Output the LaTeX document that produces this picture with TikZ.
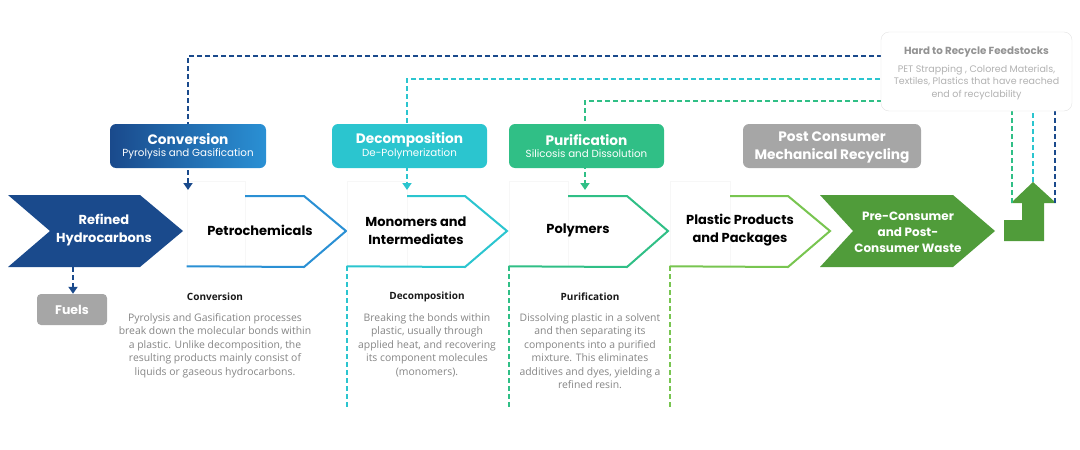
\documentclass[tikz,border=0pt]{standalone}
\usepackage{fontspec}
\setmainfont{Open Sans}
\newfontfamily\pop{Poppins}
\usetikzlibrary{arrows.meta,positioning}
\definecolor{navy}{HTML}{1A4A8C}
\definecolor{skyb}{HTML}{2A90D4}
\definecolor{tealc}{HTML}{2BC5CF}
\definecolor{mint}{HTML}{30BF86}
\definecolor{limeg}{HTML}{78C550}
\definecolor{leaf}{HTML}{509C3A}
\definecolor{greyb}{HTML}{A6A6A6}
\definecolor{bodyg}{HTML}{858585}

\begin{document}
\begin{tikzpicture}[x=1pt,y=-1pt,line join=miter,
	flowline/.style={line width=2.4pt,dash pattern=on 5pt off 3pt},
	tip/.style={-{Triangle[width=9pt,length=7pt]}},
	notch/.style={draw=gray!6,fill=white,line width=0.6pt},
	chevline/.style={line width=2pt},
	tagbox/.style={rounded corners=6pt,minimum height=44pt,text=white,align=center,inner sep=0pt,font=\pop\fontsize{10.3}{11}\selectfont},
	stage/.style={font=\pop\bfseries\fontsize{13}{18}\selectfont,align=center},
	head/.style={font=\bfseries\fontsize{10}{12}\selectfont,text=black!90},
	body/.style={font=\fontsize{10.4}{13.5}\selectfont,text=bodyg,align=center,anchor=north}]
		\useasboundingbox (0,0) rectangle (1080,450);
		% chevrons
		\fill [navy] (8,195) -- (140,195) -- (183,231) -- (140,267) -- (8,267) -- (50,231) -- cycle;
		\node [stage,text=white] (refined) at (104,230.5) {Refined\\Hydrocarbons};
		\node [notch,minimum width=58pt,minimum height=85pt,inner sep=0pt] (petro) at (216,223.5) {};
		\draw [chevline,skyb] (petro.south west) -- (304,267) -- (346,231) -- (304,196) -- (245,196);
		\node [stage] (petrotxt) at (260,230) {Petrochemicals};
		\node [notch,minimum width=60pt,minimum height=85pt,inner sep=0pt] (mono) at (377,223.5) {};
		\draw [chevline,tealc] (mono.south west) -- (465,267) -- (507,231) -- (465,196) -- (407,196);
		\node [stage] (monotxt) at (416,230.5) {Monomers and\\Intermediates};
		\node [notch,minimum width=59pt,minimum height=85pt,inner sep=0pt] (poly) at (538.5,223.5) {};
		\draw [chevline,mint] (poly.south west) -- (627,267) -- (668,231) -- (627,196) -- (568,196);
		\node [stage] (polytxt) at (578,230) {Polymers};
		\node [notch,minimum width=60pt,minimum height=85pt,inner sep=0pt] (plast) at (700,223.5) {};
		\draw [chevline,limeg] (plast.south west) -- (788,267) -- (830,231) -- (788,196) -- (730,196);
		\node [stage] (plasttxt) at (740,230) {Plastic Products\\and Packages};
		\fill [leaf] (820,195) -- (953,195) -- (995,231) -- (953,267) -- (820,267) -- (853,231) -- cycle;
		\node [stage,text=white,font=\pop\bfseries\fontsize{12}{16}\selectfont] (waste) at (908,232.5) {Pre-Consumer\\and Post-\\Consumer Waste};
		% up arrow back to the feedstocks
		\coordinate (upG) at (1012,203);
		\coordinate (upC) at (1033,182);
		\coordinate (upB) at (1055,203);
		\fill [leaf] (1004,220) -- (1022,220) -- (1022,203) -- (1011,203) -- (upC) -- (1056,203) -- (1044,203) -- (1044,241) -- (1004,241) -- cycle;
		% feedback loops from the hard to recycle box
		\draw [flowline,navy,tip] (upB) |- (188,56) -- (188,190);
		\draw [flowline,tealc,tip] (upC) |- (407,79) -- (407,190);
		\draw [flowline,mint,tip] (upG) |- (585,101) -- (585,190);
		\node [draw=gray!22,fill=white,rounded corners=8pt,minimum width=191pt,minimum height=79pt] (hard) at (976.5,71.5) {};
		\node [align=center,inner sep=0pt,font=\pop\fontsize{9.5}{12.5}\selectfont,text=gray!60] (hardtxt) at (976.5,73.5)
			{{\bfseries\fontsize{10.3}{12}\selectfont\color{gray!85}Hard to Recycle Feedstocks}\\[5pt]PET Strapping , Colored Materials,\\Textiles, Plastics that have reached\\end of recyclability};
		% process boxes
		\node [tagbox,minimum width=156pt,left color=navy,right color=skyb] (conv) at (188,146)
			{{\bfseries\fontsize{13.7}{14}\selectfont Conversion}\\[1pt]Pyrolysis and Gasification};
		\node [tagbox,minimum width=155pt,fill=tealc] (decomp) at (409.5,146)
			{{\bfseries\fontsize{13.7}{14}\selectfont Decomposition}\\[1pt]De-Polymerization};
		\node [tagbox,minimum width=155pt,fill=mint] (purif) at (586.5,146)
			{{\bfseries\fontsize{13.7}{14}\selectfont Purification}\\[1pt]Silicosis and Dissolution};
		\node [tagbox,minimum width=178pt,fill=greyb,text depth=0pt,font=\pop\bfseries\fontsize{13.7}{18}\selectfont] (mech) at (832,146)
			{Post Consumer\\Mechanical Recycling};
		% fuels
		\node [fill=greyb,rounded corners=4pt,minimum width=70pt,minimum height=31pt,text=white,font=\pop\bfseries\fontsize{12.5}{14}\selectfont] (fuels) at (72,309.5) {Fuels};
		\draw [flowline,navy,tip] (73,267) -- (fuels.north -| 73,0);
		% dashed guides below
		\draw [flowline,tealc] (mono.south west) -- ++(0,143);
		\draw [flowline,mint] (poly.south west) -- ++(0,143);
		\draw [flowline,limeg] (plast.south west) -- ++(0,143);
		% descriptions
		\node [head] (convhead) at (215,297) {Conversion};
		\node [body] (convbody) at (215,310) {Pyrolysis and Gasification processes\\break down the molecular bonds within\\a plastic. Unlike decomposition, the\\resulting products mainly consist of\\liquids or gaseous hydrocarbons.};
		\node [head] (dechead) at (427,297) {Decomposition};
		\node [body] (decbody) at (427,310) {Breaking the bonds within\\plastic, usually through\\applied heat, and recovering\\its component molecules\\(monomers).};
		\node [head] (purhead) at (590,297) {Purification};
		\node [body] (purbody) at (590,310) {Dissolving plastic in a solvent\\and then separating its\\components into a purified\\mixture. This eliminates\\additives and dyes, yielding a\\refined resin.};
\end{tikzpicture}
\end{document}
